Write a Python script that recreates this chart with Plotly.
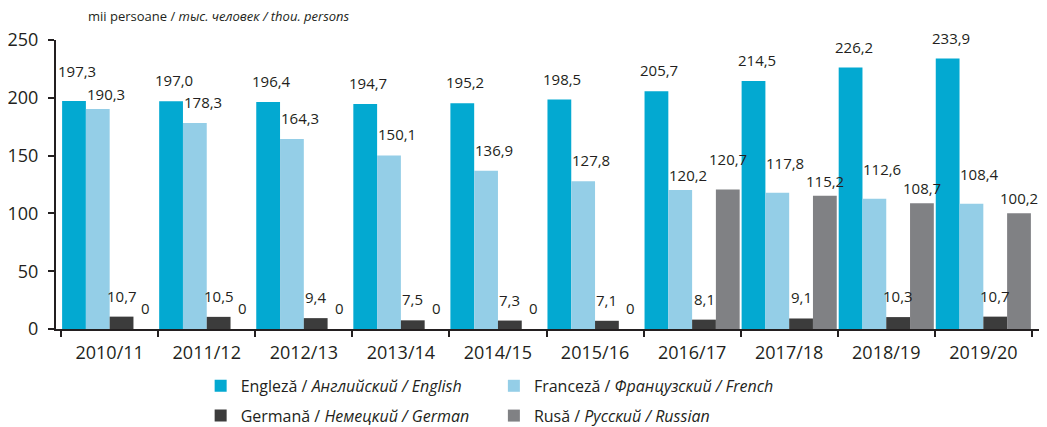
import plotly.graph_objects as go

categories = ["2010/11", "2011/12", "2012/13", "2013/14", "2014/15",
              "2015/16", "2016/17", "2017/18", "2018/19", "2019/20"]
english = [197.3, 197.0, 196.4, 194.7, 195.2, 198.5, 205.7, 214.5, 226.2, 233.9]
french = [190.3, 178.3, 164.3, 150.1, 136.9, 127.8, 120.2, 117.8, 112.6, 108.4]
german = [10.7, 10.5, 9.4, 7.5, 7.3, 7.1, 8.1, 9.1, 10.3, 10.7]
russian = [0, 0, 0, 0, 0, 0, 120.7, 115.2, 108.7, 100.2]
y_ticks = [0, 50, 100, 150, 200, 250]

names = ["Engleză / <i>Английский / English</i>",
         "Franceză / <i>Французский / French</i>",
         "Germană / <i>Немецкий / German</i>",
         "Rusă / <i>Русский / Russian</i>"]
colors = ["#03A9D1", "#94CEE7", "#3C3C3C", "#808184"]
legends = ["legend", "legend2", "legend", "legend2"]
label_xshift = [3, 8, 0, 0]
values = [english, french, german, russian]

FONT = "Open Sans"
TXT = "#231F20"
bargap = 0.02
# page body has an 8px margin, so the figure is sized to fit the window
W, H = 1039, 419
M = dict(l=48, r=7, t=32, b=98)
YMAX = 250
px_per_unit = (H - M["t"] - M["b"]) / YMAX
BASE_SHIFT = 21

fig = go.Figure()
for k, (nm, vals, col, lg) in enumerate(zip(names, values, colors, legends)):
    fig.add_trace(go.Bar(x=categories, y=vals, name=nm, marker_color=col,
                         marker_line_width=0, legend=lg, legendgroup=nm))

# label vertical shifts: separate labels of neighbouring bars with near-equal heights
shifts = [[BASE_SHIFT] * len(categories) for _ in values]
for i in range(len(categories)):
    for a, b in [(0, 1), (1, 3)]:
        va, vb = values[a][i], values[b][i]
        if va > 0 and vb > 0 and abs(va - vb) * px_per_unit < 9.5:
            hi, lo = (a, b) if va >= vb else (b, a)
            shifts[hi][i] = BASE_SHIFT + 9
            shifts[lo][i] = BASE_SHIFT - 6

w = (1 - bargap) / 4
annotations = []
for k, vals in enumerate(values):
    for i, v in enumerate(vals):
        txt = "0" if v == 0 else f"{v:.1f}".replace(".", ",")
        annotations.append(dict(x=i + (k - 1.5) * w, y=v, xref="x", yref="y",
                                text=txt, showarrow=False, yanchor="middle",
                                xshift=label_xshift[k], yshift=shifts[k][i],
                                font=dict(family=FONT, size=15, color=TXT)))
annotations.append(dict(x=0, y=1.0, xref="paper", yref="paper",
                        xanchor="left", yanchor="bottom", yshift=13, xshift=30,
                        align="left",
                        text="mii persoane / <i>тыс. человек / thou. persons</i>",
                        showarrow=False, font=dict(family=FONT, size=13, color=TXT)))

fig.update_layout(
    width=W, height=H,
    margin=dict(**M, autoexpand=False),
    plot_bgcolor="white", paper_bgcolor="white",
    barmode="group", bargap=bargap, bargroupgap=0,
    font=dict(family=FONT, color=TXT),
    annotations=annotations,
    showlegend=True,
    legend=dict(x=0.147, y=-0.138, xanchor="left", yanchor="top",
                orientation="v", tracegroupgap=6,
                font=dict(family=FONT, size=16, color=TXT)),
    legend2=dict(x=0.445, y=-0.138, xanchor="left", yanchor="top",
                 orientation="v", tracegroupgap=6,
                 font=dict(family=FONT, size=16, color=TXT)),
)
fig.update_xaxes(type="category", showline=True, linecolor="#231F20", linewidth=2,
                 ticks="outside", tickson="boundaries", ticklen=6, tickwidth=1.5,
                 tickcolor="#231F20", showgrid=False, ticklabelstandoff=6,
                 tickfont=dict(family=FONT, size=18, color=TXT))
fig.update_yaxes(range=[0, YMAX], tickvals=y_ticks, showline=True,
                 linecolor="#231F20", linewidth=2, ticks="outside", ticklen=6,
                 tickwidth=1.5, tickcolor="#231F20", showgrid=False, zeroline=False,
                 ticklabelstandoff=6,
                 tickfont=dict(family=FONT, size=18, color=TXT))

fig.write_html("out.html")
